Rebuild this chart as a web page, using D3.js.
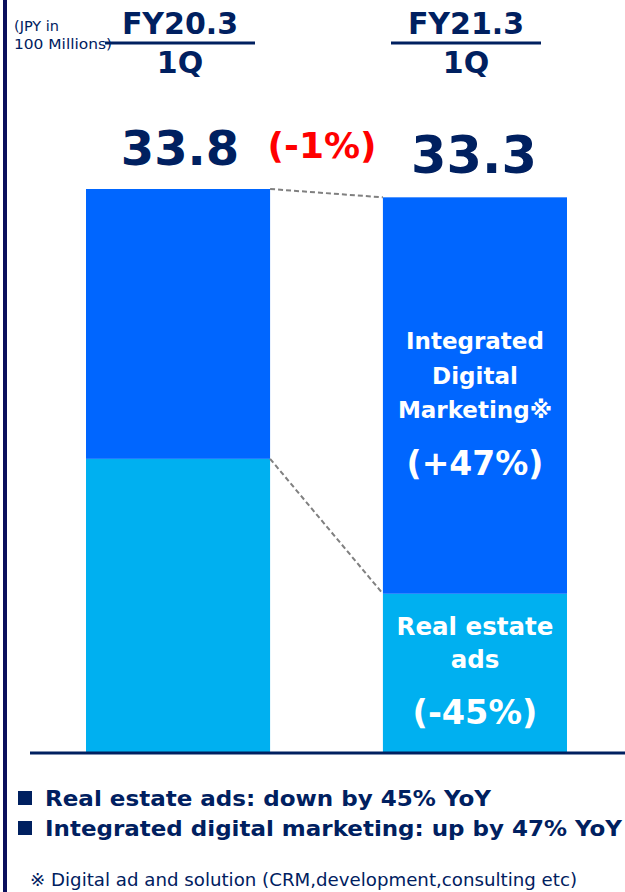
<!DOCTYPE html>
<html>
<head>
<meta charset="utf-8">
<script src="https://cdn.jsdelivr.net/npm/d3@7"></script>
<style>
  body { margin: 0; background: #fff; }
  svg { display: block; font-family: "DejaVu Sans", Verdana, sans-serif; }
</style>
</head>
<body>
<svg width="625" height="892"></svg>
<script>
// data (JPY 100 millions)
const periods = ["FY20.3", "FY21.3"];
const periodSub = ["1Q", "1Q"];
const realEstate = [17.6, 9.5];
const digitalMkt = [16.2, 23.8];
const totals = ["33.8", "33.3"];
const totalChange = "(-1%)";
const segChange = { re: "(-45%)", idm: "(+47%)" };
const legendLines = [
  "Real estate ads: down by 45% YoY",
  "Integrated digital marketing: up by 47% YoY"
];
const footnote = "※ Digital ad and solution (CRM,development,consulting etc)";

const navy = "#002060";
const blueIdm = "#0066ff";
const blueRe = "#00b0f0";

const svg = d3.select("svg");

// left frame line
svg.append("rect").attr("x", 3).attr("y", 0).attr("width", 4).attr("height", 892).attr("fill", "#0a0f5c");

const x = d3.scaleBand().domain(periods).range([86, 567]).paddingInner(0.38).paddingOuter(0);
const y = d3.scaleLinear().domain([0, 33.8]).range([752, 189]);

// unit note
svg.append("text").attr("x", 14).attr("y", 31).attr("font-size", 14.5).attr("fill", navy).text("(JPY in");
svg.append("text").attr("x", 14).attr("y", 49).attr("font-size", 14.5).attr("fill", navy)
  .attr("textLength", 98).attr("lengthAdjust", "spacingAndGlyphs").text("100 Millions)");

// period headers
const headCx = [180, 466];
periods.forEach((p, i) => {
  const cx = headCx[i];
  svg.append("text").attr("x", cx).attr("y", 34).attr("text-anchor", "middle")
    .attr("font-size", 30).attr("font-weight", "bold").attr("fill", navy).text(p);
  svg.append("line").attr("x1", cx - 75).attr("x2", cx + 75).attr("y1", 43).attr("y2", 43)
    .attr("stroke", navy).attr("stroke-width", 3);
  svg.append("text").attr("x", cx).attr("y", 73).attr("text-anchor", "middle")
    .attr("font-size", 30).attr("font-weight", "bold").attr("fill", navy).text(periodSub[i]);
});

// stacked bars
const rows = periods.map((p, i) => ({ p, re: realEstate[i], idm: digitalMkt[i] }));
const g = svg.append("g");
rows.forEach(d => {
  g.append("rect").attr("x", x(d.p)).attr("width", x.bandwidth())
    .attr("y", y(d.re)).attr("height", y(0) - y(d.re)).attr("fill", blueRe);
  g.append("rect").attr("x", x(d.p)).attr("width", x.bandwidth())
    .attr("y", y(d.re + d.idm)).attr("height", y(d.re) - y(d.re + d.idm)).attr("fill", blueIdm);
});

// dashed connectors
const x0r = x(periods[0]) + x.bandwidth();
const x1l = x(periods[1]);
[[rows[0].re + rows[0].idm, rows[1].re + rows[1].idm], [rows[0].re, rows[1].re]].forEach(([a, b]) => {
  svg.append("line").attr("x1", x0r).attr("x2", x1l).attr("y1", y(a)).attr("y2", y(b))
    .attr("stroke", "#808080").attr("stroke-width", 2).attr("stroke-dasharray", "5,3");
});

// baseline
svg.append("line").attr("x1", 30).attr("x2", 625).attr("y1", 753).attr("y2", 753)
  .attr("stroke", navy).attr("stroke-width", 3);

// totals
const totSize = [48, 51];
rows.forEach((d, i) => {
  svg.append("text").attr("x", x(d.p) + x.bandwidth() / 2 + 2 - i * 3)
    .attr("y", y(d.re + d.idm) - 24).attr("text-anchor", "middle")
    .attr("font-size", totSize[i]).attr("font-weight", "bold").attr("fill", navy).text(totals[i]);
});
svg.append("text").attr("x", 322).attr("y", 158).attr("text-anchor", "middle")
  .attr("font-size", 36).attr("font-weight", "bold").attr("fill", "#ff0000").text(totalChange);

// labels in right bar
const cxR = x(periods[1]) + x.bandwidth() / 2;
const white = (txt, yy, size) => svg.append("text").attr("x", cxR).attr("y", yy)
  .attr("text-anchor", "middle").attr("font-size", size).attr("font-weight", "bold")
  .attr("fill", "#fff").text(txt);
white("Integrated", 349, 23);
white("Digital", 384, 23);
white("Marketing※", 418, 23);
white(segChange.idm, 475, 33);
white("Real estate", 635, 24.5);
white("ads", 668, 24.5);
white(segChange.re, 724, 33.5);

// legend
const legendW = [446, 577];
legendLines.forEach((t, i) => {
  const yy = 806 + i * 30;
  svg.append("rect").attr("x", 18).attr("y", yy - 15).attr("width", 14).attr("height", 14).attr("fill", navy);
  svg.append("text").attr("x", 45).attr("y", yy).attr("font-size", 21.5).attr("font-weight", "bold")
    .attr("textLength", legendW[i]).attr("lengthAdjust", "spacingAndGlyphs")
    .attr("fill", navy).text(t);
});

svg.append("text").attr("x", 30).attr("y", 886).attr("font-size", 17.5).attr("fill", navy)
  .attr("textLength", 547).attr("lengthAdjust", "spacingAndGlyphs").text(footnote);
</script>
</body>
</html>
